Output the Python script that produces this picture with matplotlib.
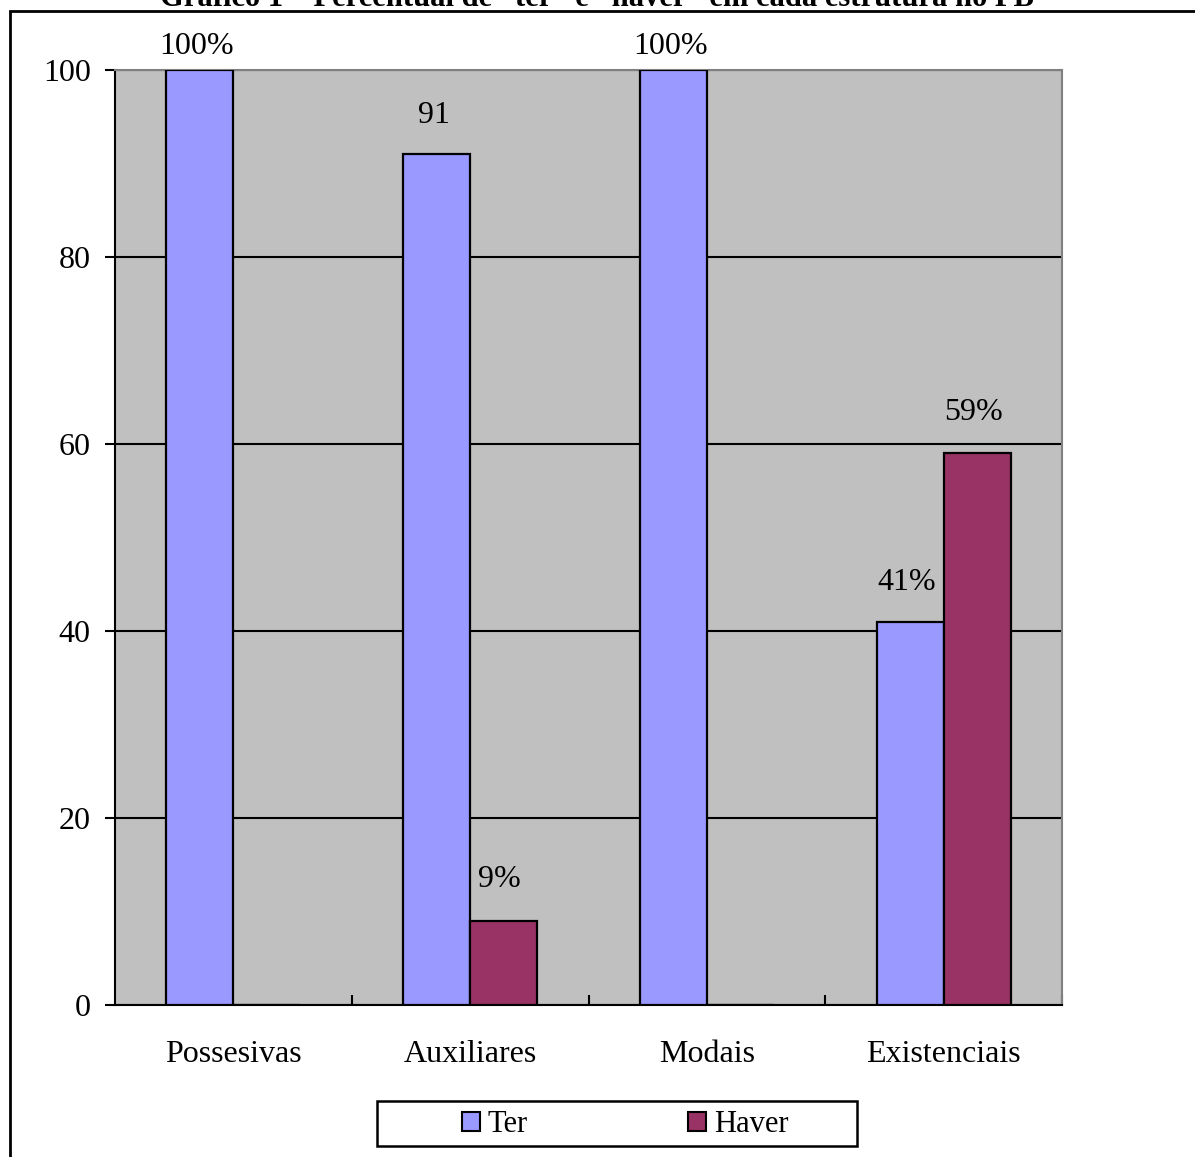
import numpy as np
import matplotlib.pyplot as plt
from matplotlib.patches import Rectangle, Patch

# Data
categorias = ["Possesivas", "Auxiliares", "Modais", "Existenciais"]
ter = [100, 91, 100, 41]
haver = [0, 9, 0, 59]
rotulos_ter = ["100%", "91", "100%", "41%"]
rotulos_haver = ["", "9%", "", "59%"]
titulo = "Gráfico 1 – Percentual de \u201cter\u201d e \u201chaver\u201d em cada estrutura no PB"

cor_ter = "#9999FF"
cor_haver = "#993366"
fs = 23

plt.rcParams['font.family'] = ['Liberation Serif', 'DejaVu Serif']

W, H = 1195, 1157
fig = plt.figure(figsize=(W / 100, H / 100), dpi=100)
ax = fig.add_axes([115 / W, 1 - 1005 / H, (1062 - 115) / W, (1005 - 70) / H])
ax.set_facecolor("#C0C0C0")

x = np.arange(len(categorias))
w = 0.283
ax.bar(x - w / 2, ter, w, color=cor_ter, edgecolor="black", linewidth=1.6, zorder=3)
ax.bar(x + w / 2, haver, w, color=cor_haver, edgecolor="black", linewidth=1.6, zorder=3)

# data labels
for xi, v, s in zip(x - w / 2, ter, rotulos_ter):
    off = 24 if v >= 100 else 39
    ax.annotate(s, (xi, v), xytext=(-3, off), textcoords="offset pixels",
                ha="center", va="center", fontsize=fs, annotation_clip=False, zorder=4)
for xi, v, s in zip(x + w / 2, haver, rotulos_haver):
    if s:
        ax.annotate(s, (xi, v), xytext=(-4, 41), textcoords="offset pixels",
                    ha="center", va="center", fontsize=fs, zorder=4)

ax.set_ylim(0, 100)
ax.set_xlim(-0.5, 3.5)
ax.set_yticks([0, 20, 40, 60, 80, 100])
ax.tick_params(axis="y", direction="out", length=7.5, width=1.5, pad=10, labelsize=fs)
ax.set_xticks(x)
ax.set_xticklabels(categorias, fontsize=fs)
ax.set_xticks(np.arange(0.5, 4, 1), minor=True)
ax.tick_params(axis="x", which="major", length=0, pad=25)
ax.tick_params(axis="x", which="minor", direction="in", length=7.5, width=1.5)

ax.grid(axis="y", color="black", linewidth=1.5, zorder=1)
ax.set_axisbelow(True)
ax.spines["left"].set_linewidth(1.5)
ax.spines["bottom"].set_linewidth(1.5)
ax.spines["top"].set_color("#808080")
ax.spines["right"].set_color("#808080")
ax.spines["top"].set_linewidth(1.5)
ax.spines["right"].set_linewidth(1.5)

# legend with its own box
fig.patches.append(Rectangle((377 / W, 1 - 1146 / H), 480 / W, 45 / H, transform=fig.transFigure,
                             facecolor="white", edgecolor="black", linewidth=1.8))
handles = [Patch(facecolor=cor_ter, edgecolor="black", linewidth=1.5, label="Ter"),
           Patch(facecolor=cor_haver, edgecolor="black", linewidth=1.5, label="Haver")]
fig.legend(handles=handles, loc="center", bbox_to_anchor=(625 / W, 1 - 1125 / H), ncol=2,
           frameon=False, fontsize=fs - 1, handlelength=0.6, handleheight=0.6,
           handletextpad=0.25, columnspacing=5.25, borderpad=0)

# outer frame (cut off by the page edges)
fig.patches.append(Rectangle((10 / W, -0.1), 2, 1.1 - 11 / H, transform=fig.transFigure,
                             facecolor="none", edgecolor="black", linewidth=2))

# title, clipped at the top of the page as in the original
fig.text(597 / W, 1 - 6 / H, titulo, ha="center", va="baseline", fontsize=fs - 1, fontweight="bold")

fig.savefig("out.png", dpi=100)
